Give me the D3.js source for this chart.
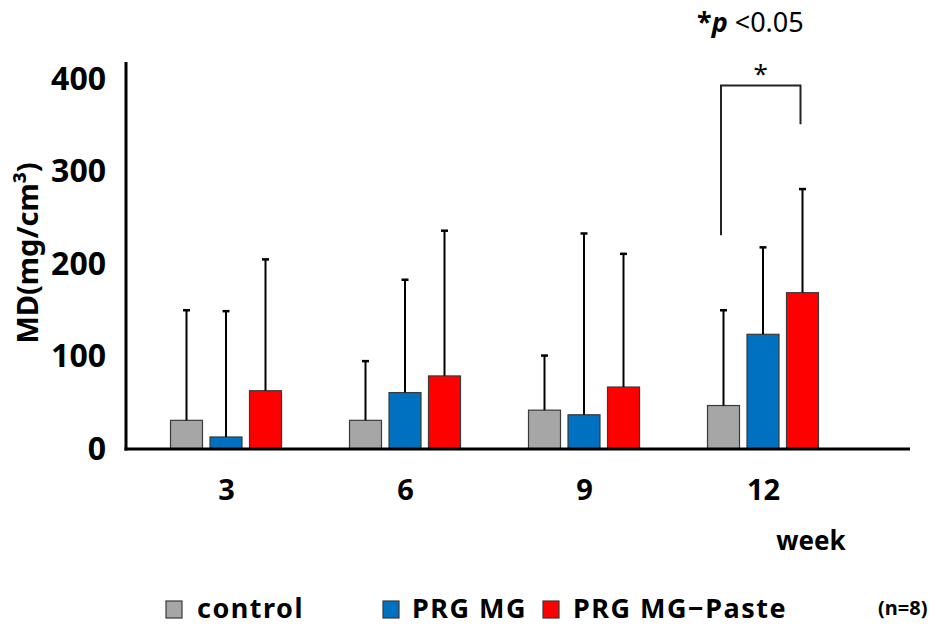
<!DOCTYPE html>
<html lang="en">
<head>
<meta charset="utf-8">
<title>MD by week</title>
<script src="https://d3js.org/d3.v7.min.js"></script>
<style>
    body { margin: 0; background: #fff; }
    text { font-family: "Noto Sans", "DejaVu Sans", sans-serif; fill: #000; }
</style>
</head>
<body>
<script>
    // data
    var weeks = ["3", "6", "9", "12"];
    var series = ["control", "PRG MG", "PRG MG\u2212Paste"];
    var colors = ["#a6a6a6", "#0070c0", "#ff0000"];
    var controlMean = [31, 31, 42, 47];
    var controlSD = [119, 64, 59, 103];
    var mgMean = [13, 61, 37, 124];
    var mgSD = [136, 122, 196, 94];
    var pasteMean = [63, 79, 67, 169];
    var pasteSD = [142, 157, 144, 112];
    var yTicks = [0, 100, 200, 300, 400];
    // significance bracket (week 12, control vs paste), in data units
    var sigWeek = "12";
    var sigTop = 393, sigLeftEnd = 231, sigRightEnd = 351;

    var width = 938, height = 627;

    var means = [controlMean, mgMean, pasteMean];
    var sds = [controlSD, mgSD, pasteSD];
    var rows = [];
    weeks.forEach(function(w, i) {
        series.forEach(function(s, j) {
            rows.push({ week: w, series: s, mean: means[j][i], sd: sds[j][i], color: colors[j] });
        });
    });

    var svg = d3.select("body").append("svg")
        .attr("width", width)
        .attr("height", height);

    var x0 = d3.scalePoint().domain(weeks).range([226, 763]);
    var x1 = d3.scaleBand().domain(series).range([-55.5, 55.5]).paddingInner(0.19);
    var y = d3.scaleLinear().domain([0, 400]).range([449, 79]);

    //bars
    var g = svg.append("g");
    g.selectAll("rect.bar")
        .data(rows)
        .enter().append("rect")
        .attr("class", "bar")
        .attr("x", function(d) { return x0(d.week) + x1(d.series); })
        .attr("y", function(d) { return y(d.mean); })
        .attr("width", x1.bandwidth())
        .attr("height", function(d) { return y(0) - y(d.mean); })
        .attr("fill", function(d) { return d.color; })
        .attr("stroke", "#3a3a3a")
        .attr("stroke-width", 1.2);

    //error bars (upper only)
    var cx = function(d) { return x0(d.week) + x1(d.series) + x1.bandwidth() / 2; };
    g.selectAll("line.err")
        .data(rows)
        .enter().append("line")
        .attr("class", "err")
        .attr("x1", cx).attr("x2", cx)
        .attr("y1", function(d) { return y(d.mean); })
        .attr("y2", function(d) { return y(d.mean + d.sd); })
        .attr("stroke", "#000")
        .attr("stroke-width", 2);
    g.selectAll("line.cap")
        .data(rows)
        .enter().append("line")
        .attr("class", "cap")
        .attr("x1", function(d) { return cx(d) - 3.5; })
        .attr("x2", function(d) { return cx(d) + 3.5; })
        .attr("y1", function(d) { return y(d.mean + d.sd); })
        .attr("y2", function(d) { return y(d.mean + d.sd); })
        .attr("stroke", "#000")
        .attr("stroke-width", 2.5);

    //axes
    var yAxis = d3.axisLeft(y).tickValues(yTicks).tickSize(0).tickPadding(20);
    var ya = svg.append("g").attr("transform", "translate(126,0)").call(yAxis);
    ya.select(".domain").remove();
    ya.selectAll("text")
        .style("font-size", "32px")
        .style("font-weight", "bold")
        .attr("font-family", null);
    svg.append("line")
        .attr("x1", 126).attr("x2", 126)
        .attr("y1", 62).attr("y2", y(0) + 1.5)
        .attr("stroke", "#000").attr("stroke-width", 3);

    var xAxis = d3.axisBottom(x0).tickSize(0).tickPadding(30);
    var xa = svg.append("g").attr("transform", "translate(0," + y(0) + ")").call(xAxis);
    xa.select(".domain").remove();
    xa.selectAll("text")
        .style("font-size", "29px")
        .style("font-weight", "bold")
        .attr("font-family", null);
    svg.append("line")
        .attr("x1", 124.5).attr("x2", 910)
        .attr("y1", y(0)).attr("y2", y(0))
        .attr("stroke", "#000").attr("stroke-width", 3);

    svg.append("text")
        .attr("x", 811).attr("y", 550)
        .attr("text-anchor", "middle")
        .style("font-size", "26px")
        .style("font-weight", "bold")
        .text("week");

    svg.append("text")
        .attr("transform", "translate(38,253) rotate(-90)")
        .attr("text-anchor", "middle")
        .style("font-size", "29px")
        .style("font-weight", "bold")
        .text("MD(mg/cm\u00b3)");

    //significance bracket
    var i0 = series[0], i2 = series[2];
    var bl = x0(sigWeek) + x1(i0) + x1.bandwidth() / 2 - 2.5;
    var br = x0(sigWeek) + x1(i2) + x1.bandwidth() / 2 - 2;
    svg.append("path")
        .attr("d", "M" + bl + "," + y(sigLeftEnd) + "V" + y(sigTop) + "H" + br + "V" + y(sigRightEnd))
        .attr("fill", "none")
        .attr("stroke", "#222")
        .attr("stroke-width", 2);
    svg.append("text")
        .attr("x", (bl + br) / 2).attr("y", y(sigTop) - 2)
        .attr("text-anchor", "middle")
        .style("font-size", "26px")
        .text("*");

    var note = svg.append("text")
        .attr("x", 697).attr("y", 32)
        .style("font-size", "27px");
    note.append("tspan").style("font-weight", "bold").text("*");
    note.append("tspan").style("font-style", "italic").style("font-weight", "bold").text("p");
    note.append("tspan").attr("dx", 7).text("<0.05");

    //legend
    var legendX = [[166, 197], [383, 412], [543, 573]];
    var leg = svg.selectAll("g.legend")
        .data(series)
        .enter().append("g")
        .attr("class", "legend");
    leg.append("rect")
        .attr("x", function(d, i) { return legendX[i][0]; })
        .attr("y", 601)
        .attr("width", 16).attr("height", 17)
        .attr("fill", function(d, i) { return colors[i]; })
        .attr("stroke", "#3a3a3a")
        .attr("stroke-width", 1.2);
    leg.append("text")
        .attr("x", function(d, i) { return legendX[i][1]; })
        .attr("y", 618)
        .style("font-size", "27px")
        .style("font-weight", "bold")
        .style("letter-spacing", "1.5px")
        .text(function(d) { return d; });

    svg.append("text")
        .attr("x", 878).attr("y", 615)
        .style("font-size", "20px")
        .style("font-weight", "bold")
        .text("(n=8)");
</script>
</body>
</html>
